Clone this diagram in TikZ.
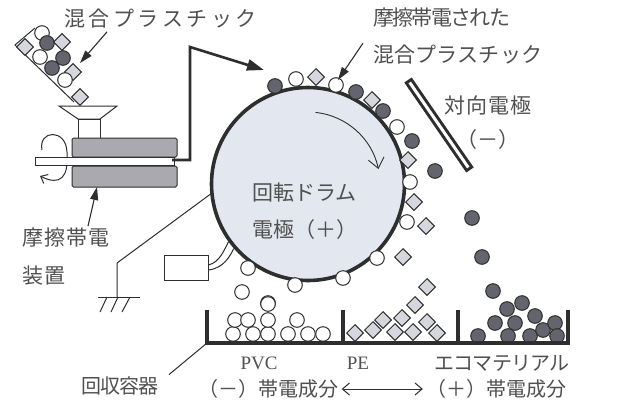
\documentclass[tikz,border=0pt]{standalone}
\usepackage{fontspec}
\setmainfont{Liberation Serif}
\newfontfamily\jpfont{Noto Sans CJK JP}
\usetikzlibrary{arrows.meta}

\definecolor{ink}{HTML}{2E2E2E}
\definecolor{txt}{HTML}{505050}
\definecolor{drumfill}{HTML}{E3E7F0}
\definecolor{ballgray}{HTML}{64646E}
\definecolor{diafill}{HTML}{D6D6DE}
\definecolor{bodygray}{HTML}{A9A9AF}

% Japanese label font: size, letter spacing
\newcommand\jpsize[2]{\jpfont\fontsize{#1}{#1}\selectfont\addfontfeature{LetterSpace=#2}}

% particles
\newcommand\wball[1]{\draw[whiteball] (#1) circle (7.3);}
\newcommand\dball[1]{\draw[darkball] (#1) circle (7.3);}
\newcommand\dia[1]{\draw[diapart,shift={(#1)}] (0,-8.3) -- (8.3,0) -- (0,8.3) -- (-8.3,0) -- cycle;}

\tikzset{
  lbl/.style={inner sep=0pt, text=txt},
  whiteball/.style={draw=ink, fill=white, line width=1pt},
  darkball/.style={draw=ink, fill=ballgray, line width=1pt},
  diapart/.style={draw=ink, fill=diafill, line width=1pt},
  thinline/.style={draw=ink, line width=1pt},
  pointer/.style={draw=ink, line width=1.1pt, -{Triangle[length=13pt,width=8pt]}},
  wall/.style={draw=ink, line width=3.4pt},
}

\begin{document}
\begin{tikzpicture}[x=1pt,y=-1pt]
\useasboundingbox[fill=white] (0,0) rectangle (620,407);

% ---- drum ----
\node[circle, draw=ink, line width=3.6pt, fill=drumfill, minimum size=193pt, inner sep=0pt] (drum) at (308,184) {};
\draw[ink, line width=0.9pt, -{Straight Barb[length=10pt,width=16pt]}]
  (drum.center) ++(-84:72) arc[start angle=-84, end angle=-12, radius=72];

% ---- labels ----
\node[lbl, font=\jpsize{21}{17}, anchor=west] (mixlabel) at (64,19) {混合プラスチック};
\node[lbl, font=\jpsize{21}{-8}, anchor=west] (chargedA) at (373,18) {摩擦帯電された};
\node[lbl, font=\jpsize{21}{1}, anchor=west] (chargedB) at (373,55) {混合プラスチック};
\node[lbl, font=\jpsize{21}{5}, anchor=west] (celabel) at (444,105) {対向電極};
\node[lbl, font=\jpsize{21}{0}] (cesign) at (487.5,140) {（－）};
\node[lbl, font=\jpsize{21}{0}, anchor=west] (drumlabel) at (252,193) {回転ドラム};
\node[lbl, font=\jpsize{21}{0}, anchor=west] (drumsign) at (252,230) {電極（＋）};
\node[lbl, font=\jpsize{21}{5}, anchor=west] (devA) at (22,238) {摩擦帯電};
\node[lbl, font=\jpsize{21}{5}, anchor=west] (devB) at (22,276) {装置};
\node[lbl, font=\jpsize{20}{-4}] (binlabel) at (120,386) {回収容器};
\node[lbl, font=\fontsize{19}{19}\selectfont] (pvc) at (259,363) {PVC};
\node[lbl, font=\fontsize{19}{19}\selectfont] (pe) at (358,363) {PE};
\node[lbl, font=\jpsize{20}{-4}] (eco) at (502,363) {エコマテリアル};
\node[lbl, font=\jpsize{20}{0}] (negpart) at (268.5,389) {（－）帯電成分};
\node[lbl, font=\jpsize{20}{0}] (pospart) at (496,389) {（＋）帯電成分};

% ---- feeding chute ----
\draw[thinline] (35,28) -- (15,45) -- (74,102);
\wball{42,33} \dia{25,47} \dball{47,43} \dia{62,42}
\wball{40,57} \dball{63,58} \dball{52,68} \dia{73,72}
\wball{65,80} \dia{80,97}

% hopper
\draw[thinline, fill=white] (59,106) -- (117,106) -- (100,119) -- (78,119) -- cycle;
\draw[thinline, fill=white] (78,119) rectangle (100,138);

% rotation mark around the shaft
\draw[thinline, -{Straight Barb[length=6pt,width=10pt]}]
  (42,150) .. controls (38,130) and (66,128) .. (67,152)
  .. controls (69,178) and (60,186) .. (40,176);

% friction charger
\draw[thinline, fill=bodygray, rounded corners=1.5] (72,138) rectangle (177,157);
\draw[thinline, fill=bodygray, rounded corners=1.5] (72,166) rectangle (177,187);
\draw[thinline, fill=white] (35,157.5) rectangle (174,165.5);

% conveyor to drum
\coordinate (feedout) at (172,160);
\coordinate (bendlow) at (190,160);
\coordinate (bendhigh) at (190,47);
\coordinate (drumin) at (264,70);
\draw[ink, line width=2.6pt, line join=miter, -{Triangle[length=17pt,width=11pt]}]
  (feedout) -- (bendlow) -- (bendhigh) -- (drumin);

% counter electrode
\coordinate (cetop) at (408,80);
\coordinate (cebot) at (470,170);
\draw[ink, line width=9pt] (cetop) -- (cebot);
\draw[white, line width=3pt, shorten <=3pt, shorten >=3pt] (cetop) -- (cebot);

% grounding
\coordinate (gbend) at (117,263);
\coordinate (gnd) at (117,297);
\draw[thinline] (drum.186) -- (gbend) -- (gnd);
\draw[thinline] (98,297) -- (140,297);
\draw[thinline] (107,297) -- (100,312) (118,297) -- (111,312) (130,297) -- (122,312);

% supply box
\node[draw=ink, line width=1pt, minimum width=44pt, minimum height=25pt, inner sep=0pt] (supply) at (186,267.5) {};
\draw[thinline] ([yshift=2.5pt]supply.east) .. controls (220,262) and (224,250) .. (drum.216);
\draw[thinline] ([yshift=-2.5pt]supply.east) .. controls (224,268) and (230,256) .. (drum.221);

% particles on and around the drum
\dball{275,86} \wball{296,79} \dia{316,77} \wball{336,85} \dball{356,92}
\dia{372,100} \dball{383,111} \wball{397,127} \dball{412,141} \dia{408,160}
\wball{410,182} \dia{414,202} \wball{407,222} \dia{426,226}
\dball{435,171} \dball{472,218} \dball{482,257} \dball{493,291}
\wball{377,258} \dia{403,257} \wball{343,278} \wball{295,285}
\wball{248,268} \wball{242,292} \wball{268,303} \dia{427,287}

% ---- collection bins ----
\wball{233,334} \wball{253,334} \wball{268,334} \wball{288,334} \wball{308,334} \wball{323,334}
\wball{235,320} \wball{248,320} \wball{268,320} \wball{297,320} \wball{268,304}
\dia{355,333} \dia{373,330} \dia{383,320} \dia{395,332} \dia{402,318}
\dia{415,305} \dia{413,332} \dia{427,322} \dia{437,333}
\dball{478,336} \dball{495,323} \dball{507,309} \dball{522,303} \dball{515,323}
\dball{508,336} \dball{535,316} \dball{530,336} \dball{543,330} \dball{555,323} \dball{557,336}

\coordinate (binL) at (207,343);
\coordinate (binR) at (570,343);
\draw[wall] (207,310) -- (binL) -- (binR);
\draw[wall] (343,310) -- (343,343) (458,310) -- (458,343) (568,310) -- (568,343);

% ---- pointers ----
\coordinate (chutept) at (80,63);
\draw[pointer] ([xshift=43pt,yshift=-3pt]mixlabel.south west) -- (chutept);
\coordinate (drumpt) at (338,80);
\draw[pointer] ([xshift=-10pt,yshift=2pt]chargedB.north west) -- (drumpt);
\coordinate (devpt) at (97,187);
\draw[pointer] ([xshift=66pt,yshift=2pt]devA.north west) -- (devpt);
\draw[thinline] ([xshift=10pt,yshift=2pt]binlabel.north east) -- (binL);
\draw[ink, line width=1pt, shorten <=3pt, shorten >=3pt,
      {Straight Barb[length=7pt,width=12pt]}-{Straight Barb[length=7pt,width=12pt]}]
  (negpart.east) -- (pospart.west);
\end{tikzpicture}
\end{document}
